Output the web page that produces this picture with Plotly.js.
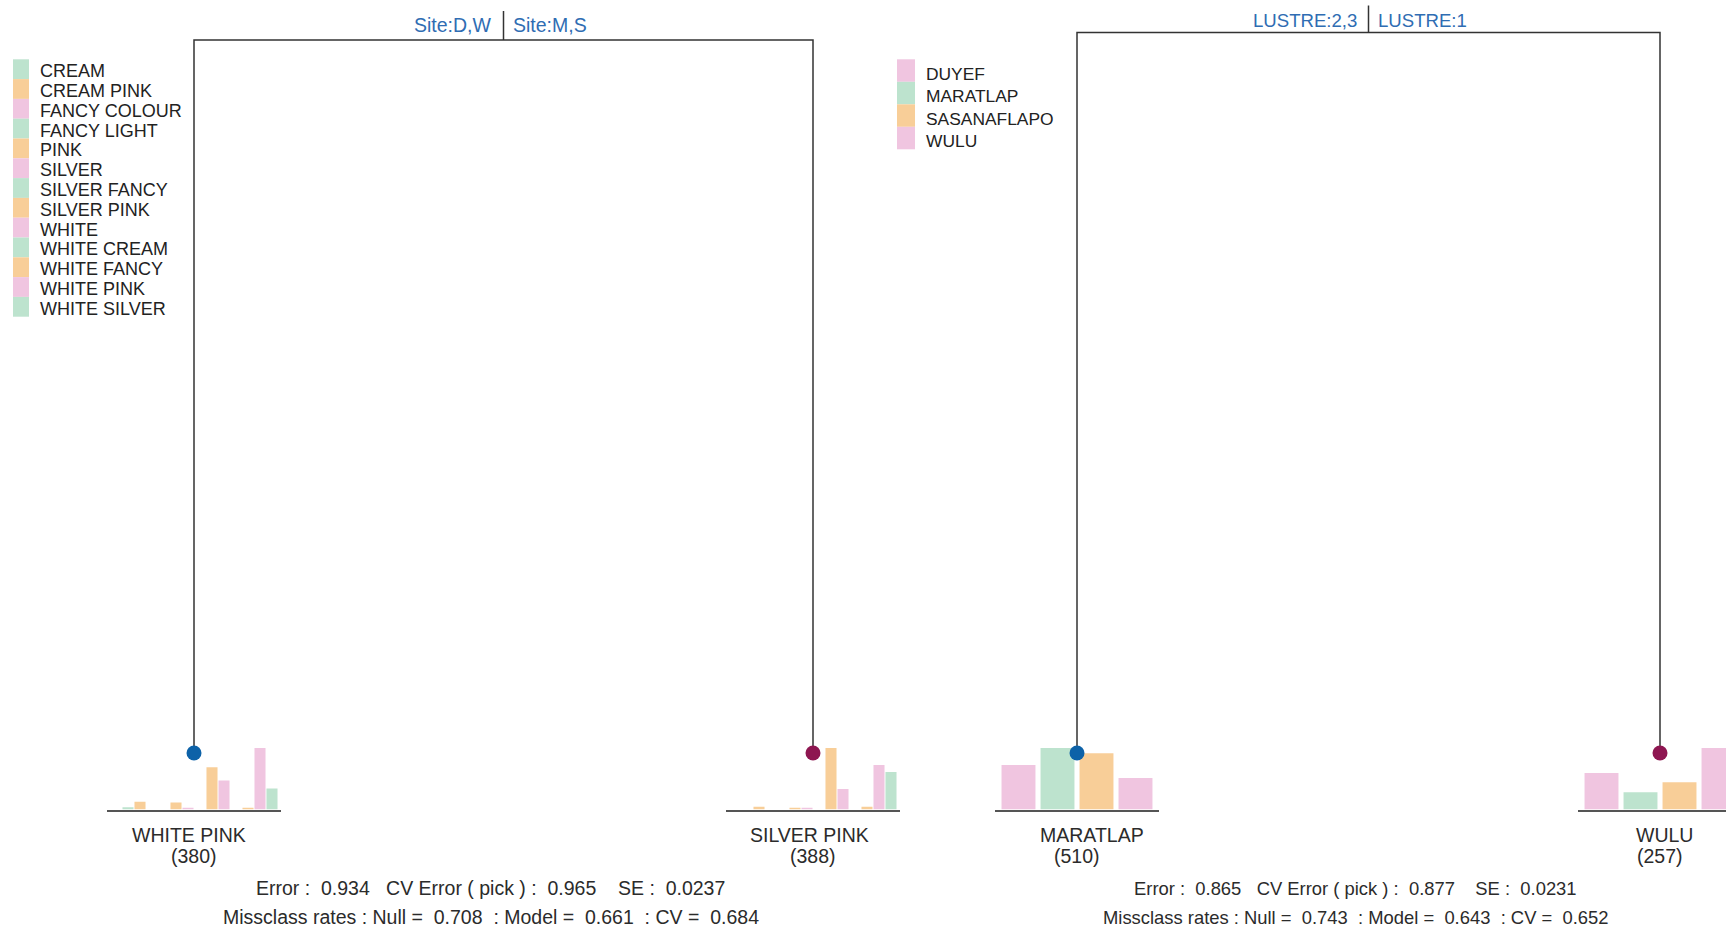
<!DOCTYPE html>
<html><head><meta charset="utf-8">
<script src="https://cdn.plot.ly/plotly-3.0.1.min.js"></script>
<style>html,body{margin:0;padding:0;background:#fff}#chart{width:1726px;height:931px}</style>
</head><body><div id="chart"></div>
<script>
// ---------------- data ----------------
const colourLevels = ["CREAM","CREAM PINK","FANCY COLOUR","FANCY LIGHT","PINK","SILVER","SILVER FANCY","SILVER PINK","WHITE","WHITE CREAM","WHITE FANCY","WHITE PINK","WHITE SILVER"];
const colourSplit = ["Site:D,W","Site:M,S"];
const colourLeafLabels = ["WHITE PINK","SILVER PINK"];
const colourLeafN = [380, 388];
const colourLeaf1Counts = [5,17,0,0,15,4,0,92,63,0,4,134,46];
const colourLeaf2Counts = [0,6,0,0,4,4,0,138,46,0,6,100,84];
const colourStats = ["Error :  0.934   CV Error ( pick ) :  0.965    SE :  0.0237",
                     "Missclass rates : Null =  0.708  : Model =  0.661  : CV =  0.684"];

const villageLevels = ["DUYEF","MARATLAP","SASANAFLAPO","WULU"];
const lustreSplit = ["LUSTRE:2,3","LUSTRE:1"];
const villageLeafLabels = ["MARATLAP","WULU"];
const villageLeafN = [510, 257];
const villageLeaf1Counts = [117,162,148,83];
const villageLeaf2Counts = [66,31,49,111];
const villageStats = ["Error :  0.865   CV Error ( pick ) :  0.877    SE :  0.0231",
                      "Missclass rates : Null =  0.743  : Model =  0.643  : CV =  0.652"];

// ---------------- style / layout ----------------
const W = 1726, H = 931;
const FONT = "Liberation Sans, Arial, Helvetica, sans-serif";
const GREEN = "#bde3ce", ORANGE = "#f8ce98", PINK = "#f0c5e0";
const palA = [GREEN, ORANGE, PINK];
const palB = [PINK, GREEN, ORANGE];
const DOT = ["#0d62a8", "#8e1651"];
const SPLITCOL = "#2f6db3";
const TXT = "#2b2b2b";

const panels = [
  {levels: colourLevels, pal: palA, split: colourSplit, leafLabels: colourLeafLabels, leafN: colourLeafN,
   counts: [colourLeaf1Counts, colourLeaf2Counts], stats: colourStats,
   leafPx: [194, 813], rootPx: 40, labelShift: 15, divider: 29, labelXShift: [-5, -4],
   splitFont: 19.5, statsFont: 19.5, legendFont: 18,
   pitch: 12, slotLo: -1.75, slotHi: 12.75, bargap: 0.08,
   legend: {x0: 13, x1: 29, top: 59.3, row: 19.8, tx: 38, dy: 2}},
  {levels: villageLevels, pal: palB, split: lustreSplit, leafLabels: villageLeafLabels, leafN: villageLeafN,
   counts: [villageLeaf1Counts, villageLeaf2Counts], stats: villageStats,
   leafPx: [1077, 1660], rootPx: 32.5, labelShift: 12, divider: 27, labelXShift: [15, 4],
   splitFont: 18.6, statsFont: 18.4, legendFont: 17.4,
   pitch: 39, slotLo: -0.6, slotHi: 3.6, bargap: 0.13,
   legend: {x0: 897, x1: 915, top: 59.3, row: 22.5, tx: 924, dy: 3}}
];
const leafYPx = 753, baselinePx = 809.5, barBoxPx = 70, maxBarPx = 61.5;

const data = [], annotations = [], shapes = [];
const layout = {
  width: W, height: H, margin: {l: 0, r: 0, t: 0, b: 0},
  paper_bgcolor: "#ffffff", plot_bgcolor: "rgba(0,0,0,0)",
  showlegend: false, font: {family: FONT, color: TXT}
};
const id = k => (k === 1 ? "" : String(k));

// bar clusters: axes 1..4
let k = 1;
panels.forEach(p => {
  const colors = p.levels.map((_, i) => p.pal[i % p.pal.length]);
  p.counts.forEach((cnt, j) => {
    const mid = (p.slotLo + p.slotHi) / 2;
    let lo = p.slotLo, hi = p.slotHi;
    let px0 = p.leafPx[j] - (mid - lo) * p.pitch;
    let px1 = p.leafPx[j] + (hi - mid) * p.pitch;
    if (px1 > W) { hi = lo + (W - px0) / p.pitch; px1 = W; }
    if (px0 < 0) { lo = hi - px1 / p.pitch; px0 = 0; }
    const mx = Math.max(...cnt);
    layout["xaxis" + id(k)] = {
      domain: [px0 / W, px1 / W], range: [lo, hi], type: "category",
      categoryorder: "array", categoryarray: p.levels,
      showline: true, linecolor: "#555555", linewidth: 2,
      showticklabels: false, ticks: "", showgrid: false, zeroline: false,
      anchor: "y" + id(k), fixedrange: true
    };
    layout["yaxis" + id(k)] = {
      domain: [1 - baselinePx / H, 1 - (baselinePx - barBoxPx) / H],
      range: [0, mx * barBoxPx / maxBarPx], visible: false,
      anchor: "x" + id(k), fixedrange: true
    };
    data.push({
      type: "bar", x: p.levels, y: cnt, width: 1 - p.bargap,
      marker: {color: colors, line: {width: 0}},
      xaxis: "x" + id(k), yaxis: "y" + id(k), hoverinfo: "x+y"
    });
    k++;
  });
});

// trees: axes 5, 6
panels.forEach((p, pi) => {
  const kk = 5 + pi;
  const u = p.leafPx[1] - p.leafPx[0];
  const xr0 = 1 - p.leafPx[0] / u;
  const uy = leafYPx - p.rootPx;
  const ytop = 1 + p.rootPx / uy;
  layout["xaxis" + kk] = {domain: [0, 1], range: [xr0, xr0 + W / u], visible: false, anchor: "y" + kk, fixedrange: true};
  layout["yaxis" + kk] = {domain: [0, 1], range: [ytop - H / uy, ytop], visible: false, anchor: "x" + kk, fixedrange: true};
  const xa = "x" + kk, ya = "y" + kk;
  data.push({type: "scatter", mode: "lines", x: [1, 1, 2, 2], y: [0, 1, 1, 0],
             line: {color: "#333333", width: 1.5}, xaxis: xa, yaxis: ya, hoverinfo: "skip"});
  data.push({type: "scatter", mode: "markers", x: [1, 2], y: [0, 0],
             marker: {color: DOT, size: 15}, xaxis: xa, yaxis: ya, hoverinfo: "skip"});
  shapes.push({type: "line", xref: xa, yref: ya, x0: 1.5, x1: 1.5, ysizemode: "pixel", yanchor: 1,
               y0: 0, y1: p.divider, line: {color: "#333333", width: 1.5}});
  // split labels
  annotations.push({xref: xa, yref: ya, x: 1.5, y: 1, xanchor: "right", yanchor: "middle", xshift: -10,
                    yshift: p.labelShift, text: p.split[0], showarrow: false,
                    font: {size: p.splitFont, color: SPLITCOL, family: FONT}});
  annotations.push({xref: xa, yref: ya, x: 1.5, y: 1, xanchor: "left", yanchor: "middle", xshift: 7,
                    yshift: p.labelShift, text: p.split[1], showarrow: false,
                    font: {size: p.splitFont, color: SPLITCOL, family: FONT}});
  // leaf labels
  p.leafLabels.forEach((lab, j) => {
    annotations.push({xref: xa, yref: ya, x: j + 1, y: 0, yanchor: "middle", yshift: -82,
                      xshift: p.labelXShift[j], text: lab,
                      showarrow: false, font: {size: 19.5, color: TXT, family: FONT}});
    annotations.push({xref: xa, yref: ya, x: j + 1, y: 0, yanchor: "middle", yshift: -103,
                      text: "(" + p.leafN[j] + ")", showarrow: false, font: {size: 19.5, color: TXT, family: FONT}});
  });
  // stats
  p.stats.forEach((s, j) => {
    annotations.push({xref: xa, yref: ya, x: 1.5, y: 0, xshift: -13, yanchor: "middle",
                      yshift: j === 0 ? -135 : -164, text: s,
                      showarrow: false, font: {size: p.statsFont, color: TXT, family: FONT}});
  });
  // legend strip
  const L = p.legend;
  p.levels.forEach((lev, i) => {
    const y0 = L.top + i * L.row, y1 = y0 + L.row;
    shapes.push({type: "rect", xref: "paper", yref: "paper", x0: L.x0 / W, x1: L.x1 / W,
                 y0: 1 - y1 / H, y1: 1 - y0 / H, fillcolor: p.pal[i % p.pal.length], line: {width: 0}, layer: "below"});
    annotations.push({xref: "paper", yref: "paper", x: L.tx / W, y: 1 - ((y0 + y1) / 2 + L.dy) / H,
                      xanchor: "left", yanchor: "middle", text: lev, showarrow: false,
                      font: {size: p.legendFont, color: "#222222", family: FONT}});
  });
});
layout.annotations = annotations;
layout.shapes = shapes;

Plotly.newPlot("chart", data, layout, {displayModeBar: false, staticPlot: true});
</script>
</body></html>
